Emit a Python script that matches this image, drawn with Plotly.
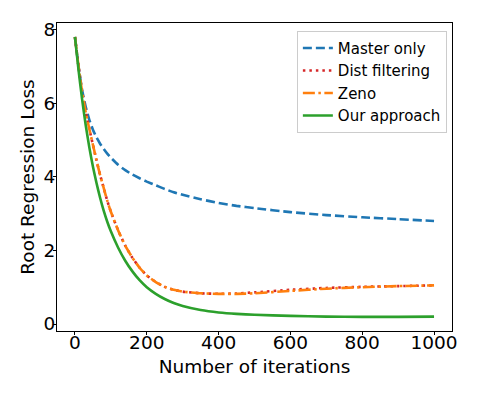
import plotly.graph_objects as go

iterations = [0, 10, 20, 30, 40, 50, 60, 70, 80, 90, 100, 120, 140, 160, 180, 200,
              225, 250, 275, 300, 350, 400, 450, 500, 600, 700, 800, 900, 1000]

master_only = [7.8, 7.0, 6.35, 5.9, 5.55, 5.28, 5.07, 4.9, 4.76, 4.63, 4.52, 4.33, 4.18, 4.06, 3.96, 3.87,
               3.77, 3.67, 3.58, 3.51, 3.39, 3.29, 3.21, 3.15, 3.04, 2.96, 2.9, 2.85, 2.8]
dist_filtering = [7.8, 7.0, 6.3, 5.75, 5.3, 4.87, 4.45, 4.05, 3.7, 3.35, 3.05, 2.55, 2.13, 1.8, 1.53, 1.32,
                  1.14, 1.01, 0.93, 0.88, 0.835, 0.82, 0.83, 0.86, 0.93, 0.98, 1.01, 1.03, 1.05]
zeno = [7.8, 7.0, 6.3, 5.75, 5.3, 4.87, 4.45, 4.05, 3.7, 3.35, 3.05, 2.55, 2.13, 1.8, 1.53, 1.32,
        1.14, 1.01, 0.93, 0.88, 0.835, 0.82, 0.82, 0.835, 0.9, 0.96, 1.0, 1.03, 1.05]
our_approach = [7.8, 6.9, 6.1, 5.4, 4.8, 4.28, 3.83, 3.43, 3.08, 2.78, 2.52, 2.08, 1.72, 1.43, 1.19, 1.0,
                0.82, 0.68, 0.57, 0.49, 0.38, 0.315, 0.275, 0.25, 0.22, 0.2, 0.195, 0.195, 0.2]

series = [
    ("Master only", master_only, "#1f77b4", "9px,4px"),
    ("Dist filtering", dist_filtering, "#d62728", "2.5px,4px"),
    ("Zeno", zeno, "#ff7f0e", "12px,3.5px,2.5px,3.5px"),
    ("Our approach", our_approach, "#2ca02c", "solid"),
]

fig = go.Figure()
for name, vals, color, dash in series:
    fig.add_trace(go.Scatter(
        x=iterations, y=vals, name=name, mode="lines",
        line=dict(color=color, width=2.6, dash=dash, shape="spline", smoothing=0.5),
    ))

axis_style = dict(
    showgrid=False, zeroline=False, showline=True, mirror=True,
    linecolor="black", linewidth=1, ticks="outside", ticklen=3,
    tickcolor="black", tickfont=dict(size=18.5, color="black"),
)

# the page body has an 8px margin, so the figure is drawn 8px smaller
fig.update_layout(
    width=470, height=391,
    margin=dict(l=49, r=26, t=15, b=68),
    plot_bgcolor="white", paper_bgcolor="white",
    font=dict(family="DejaVu Sans", color="black"),
    xaxis=dict(range=[-50, 1050], tickvals=[0, 200, 400, 600, 800, 1000],
               ticklabelstandoff=-8,
               title=dict(text="Number of iterations", font=dict(size=18.5), standoff=7),
               **axis_style),
    yaxis=dict(range=[-0.19, 8.18], tickvals=[0, 2, 4, 6, 8],
               ticklabelstandoff=-6,
               title=dict(text="Root Regression Loss", font=dict(size=18.5), standoff=4),
               **axis_style),
    legend=dict(x=0.987, y=0.975, xanchor="right", yanchor="top",
                font=dict(size=15), bordercolor="#cccccc", borderwidth=1,
                bgcolor="rgba(255,255,255,0.8)"),
    showlegend=True,
)

fig.write_html("out.html")
